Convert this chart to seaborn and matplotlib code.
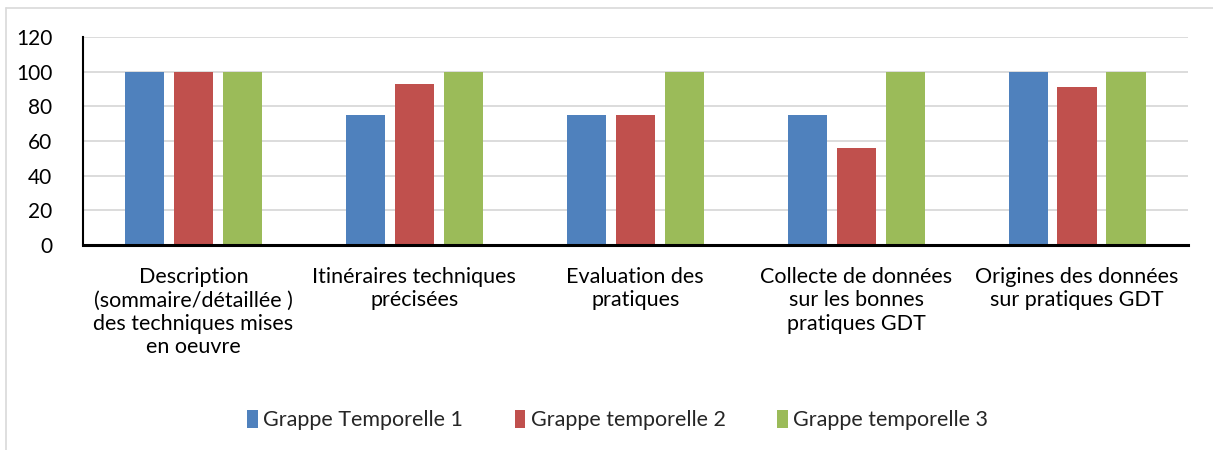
import pandas as pd
import matplotlib
matplotlib.use("Agg")
import matplotlib.pyplot as plt
from matplotlib.lines import Line2D
import seaborn as sns

# Chart data
categories = [
    "Description\n(sommaire/détaillée )\ndes techniques mises\nen oeuvre",
    "Itinéraires techniques\nprécisées",
    "Evaluation des\npratiques",
    "Collecte de données\nsur les bonnes\npratiques GDT",
    "Origines des données\nsur pratiques GDT",
]
series_names = ["Grappe Temporelle 1", "Grappe temporelle 2", "Grappe temporelle 3"]
grappe_1 = [100, 75, 75, 75, 100]
grappe_2 = [100, 93, 75, 56, 91]
grappe_3 = [100, 100, 100, 100, 100]
y_ticks = [0, 20, 40, 60, 80, 100, 120]

colors = ["#4f81bd", "#c0504d", "#9bbb59"]

rows = []
for name, vals in zip(series_names, [grappe_1, grappe_2, grappe_3]):
    for cat, v in zip(categories, vals):
        rows.append({"categorie": cat, "grappe": name, "valeur": v})
df = pd.DataFrame(rows)

sns.set_theme(style="white")
plt.rcParams["font.family"] = ["Lato", "DejaVu Sans"]

fig = plt.figure(figsize=(12.13, 4.5), dpi=100)
ax = fig.add_axes([0.0684, 0.4556, 0.9106, 0.4622])

sns.barplot(data=df, x="categorie", y="valeur", hue="grappe",
            palette=colors, width=0.665, gap=0.2, saturation=1, linewidth=0,
            order=categories, hue_order=series_names, ax=ax, zorder=2)

ax.set_ylim(0, 120)
ax.set_yticks(y_ticks)
ax.set_xlim(-0.5, len(categories) - 0.5)
ax.yaxis.grid(True, color="#d9d9d9", linewidth=1.3, zorder=0)
ax.set_axisbelow(True)
ax.set_xlabel("")
ax.set_ylabel("")

for side in ["top", "right"]:
    ax.spines[side].set_visible(False)
ax.spines["left"].set_color("black")
ax.spines["left"].set_linewidth(1.5)
ax.spines["bottom"].set_color("black")
ax.spines["bottom"].set_linewidth(2.2)
ax.spines["bottom"].set_zorder(3)

ax.tick_params(axis="y", length=0, pad=22, labelsize=15, colors="black")
ax.tick_params(axis="x", length=0, pad=16, labelsize=15.5, colors="black")
for lbl in ax.get_xticklabels():
    lbl.set_linespacing(1.2)

ax.legend(loc="upper center", bbox_to_anchor=(0.484, -0.70), ncol=3,
          frameon=False, fontsize=15.5, handlelength=0.5, handleheight=0.9,
          handletextpad=0.25, columnspacing=2.4)

# light chart-area border (top and left edges visible)
fig.add_artist(Line2D([6 / 1213, 6 / 1213], [0, 1 - 8 / 450],
                      transform=fig.transFigure, color="#d9d9d9", linewidth=1.2))
fig.add_artist(Line2D([6 / 1213, 1], [1 - 8 / 450, 1 - 8 / 450],
                      transform=fig.transFigure, color="#d9d9d9", linewidth=1.2))

fig.savefig("out.png", dpi=100)
